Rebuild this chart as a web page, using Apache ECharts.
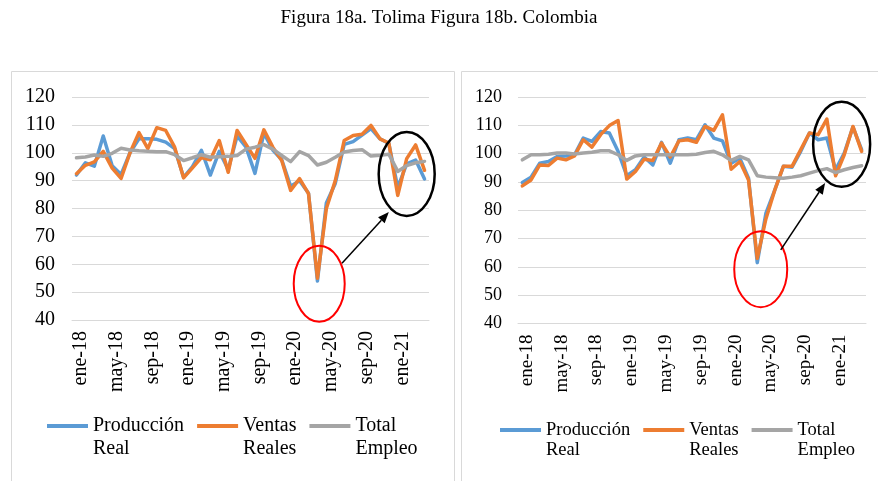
<!DOCTYPE html>
<html>
<head>
<meta charset="utf-8">
<script src="https://cdn.jsdelivr.net/npm/echarts@6/dist/echarts.min.js"></script>
<style>
    html, body { margin: 0; padding: 0; background: #fff; }
    #chart { width: 878px; height: 481px; }
</style>
</head>
<body>
<div id="chart"></div>
<script>
// categorías (meses ene-18 .. abr-21)
var meses = [
    'ene-18', 'feb-18', 'mar-18', 'abr-18', 'may-18', 'jun-18', 'jul-18', 'ago-18', 'sep-18', 'oct-18', 'nov-18', 'dic-18',
    'ene-19', 'feb-19', 'mar-19', 'abr-19', 'may-19', 'jun-19', 'jul-19', 'ago-19', 'sep-19', 'oct-19', 'nov-19', 'dic-19',
    'ene-20', 'feb-20', 'mar-20', 'abr-20', 'may-20', 'jun-20', 'jul-20', 'ago-20', 'sep-20', 'oct-20', 'nov-20', 'dic-20',
    'ene-21', 'feb-21', 'mar-21', 'abr-21'
];
var seriesNames = ['Producción Real', 'Ventas Reales', 'Total Empleo'];
var yTicks = [40, 120, 10]; // min, max, intervalo

// Figura 18a. Tolima
var tolimaProduccion = [92.0, 96.4, 95.2, 106.0, 95.3, 92.2, 100.0, 105.0, 105.0, 104.8, 103.8, 101.5,
    91.2, 95.0, 100.9, 92.0, 100.5, 94.0, 106.0, 102.0, 92.6, 107.0, 101.0, 97.5,
    88.0, 90.0, 85.5, 54.0, 82.0, 89.0, 103.0, 104.0, 106.3, 108.7, 105.0, 103.3,
    87.5, 96.0, 97.4, 90.6];
var tolimaVentas = [92.5, 95.5, 96.7, 100.5, 94.5, 90.8, 100.0, 107.2, 101.5, 109.0, 108.0, 102.0,
    91.0, 94.6, 98.3, 97.5, 104.4, 93.0, 108.0, 103.0, 98.0, 108.2, 102.0, 97.2,
    86.5, 90.7, 85.3, 55.0, 80.0, 90.0, 104.4, 106.2, 106.6, 109.8, 105.0, 103.5,
    84.7, 97.9, 102.8, 93.7];
var tolimaEmpleo = [98.2, 98.5, 99.2, 98.7, 99.8, 101.6, 101.0, 100.7, 100.5, 100.4, 100.4, 99.3,
    97.2, 98.2, 99.3, 98.4, 98.6, 98.7, 99.0, 101.3, 102.0, 102.9, 101.3, 99.0,
    96.8, 100.4, 99.0, 95.6, 96.6, 98.4, 100.3, 100.8, 101.1, 98.8, 99.1, 99.5,
    93.3, 95.4, 96.4, 96.9];

// Figura 18b. Colombia
var colombiaProduccion = [89.8, 91.7, 96.6, 97.2, 99.0, 99.2, 99.6, 105.5, 104.3, 107.8, 107.3, 100.8,
    92.2, 94.3, 98.8, 96.0, 104.0, 96.6, 104.9, 105.5, 104.9, 110.2, 105.5, 104.5,
    96.6, 98.4, 91.3, 61.5, 79.0, 87.0, 95.5, 95.2, 100.8, 107.3, 104.9, 105.5,
    94.3, 100.2, 109.4, 101.4];
var colombiaVentas = [88.6, 90.7, 96.0, 95.8, 98.4, 97.8, 99.2, 104.9, 102.3, 106.7, 109.9, 111.7,
    91.0, 93.7, 98.0, 97.6, 103.7, 98.8, 104.5, 104.9, 104.0, 109.6, 108.2, 113.7,
    94.5, 97.2, 90.7, 63.0, 77.0, 87.0, 95.5, 95.5, 101.4, 107.3, 106.7, 112.2,
    92.2, 99.6, 109.6, 100.8];
var colombiaEmpleo = [97.8, 99.6, 99.6, 99.8, 100.2, 100.2, 99.9, 100.2, 100.5, 101.0, 101.0, 99.6,
    97.6, 99.2, 99.6, 99.6, 99.6, 99.6, 99.6, 99.6, 99.8, 100.4, 100.8, 99.6,
    97.6, 99.0, 97.8, 92.2, 91.7, 91.5, 91.3, 91.7, 92.2, 93.1, 94.0, 94.7,
    93.3, 94.3, 95.1, 95.7];

(function () {
    var myChart = echarts.init(document.getElementById('chart'));
    var serif = 'Liberation Serif';
    var colors = ['#5b9bd5', '#ed7d31', '#a5a5a5'];
    var gridColor = '#d9d9d9';

    function xAxis(gridIndex, fontSize) {
        return {
            type: 'category',
            gridIndex: gridIndex,
            data: meses,
            axisTick: { show: false },
            axisLine: { lineStyle: { color: gridColor, width: 1 } },
            axisLabel: {
                interval: 3,
                rotate: 90,
                margin: 11,
                // desplaza un poco el texto girado hacia la derecha
                verticalAlign: 'top',
                lineHeight: 9,
                color: '#000',
                fontFamily: serif,
                fontSize: fontSize
            }
        };
    }

    function yAxis(gridIndex, fontSize, margin) {
        return {
            type: 'value',
            gridIndex: gridIndex,
            min: yTicks[0],
            max: yTicks[1],
            interval: yTicks[2],
            axisLine: { show: false },
            axisTick: { show: false },
            splitLine: { lineStyle: { color: gridColor, width: 1 } },
            axisLabel: { color: '#000', fontFamily: serif, fontSize: fontSize, margin: margin }
        };
    }

    function line(name, data, idx) {
        return {
            name: name,
            type: 'line',
            xAxisIndex: idx,
            yAxisIndex: idx,
            data: data,
            showSymbol: false,
            symbol: 'none',
            silent: true,
            lineStyle: { width: 3.5, cap: 'round', join: 'round' },
            animation: false
        };
    }

    // la leyenda tiene texto en dos líneas; el icono va a la altura de la primera
    function legend(left, top, h, fontSize) {
        var y0 = h / 4 - 2, y1 = h / 4 + 2;
        return {
            left: left,
            top: top,
            padding: 0,
            orient: 'horizontal',
            itemWidth: 41,
            itemHeight: h,
            itemGap: 13,
            icon: 'path://M0,0M0,' + y0 + 'H41V' + y1 + 'H0ZM41,' + h,
            itemStyle: { borderWidth: 0 },
            data: seriesNames,
            formatter: function (name) {
                return name.replace(' ', '\n');
            },
            textStyle: { color: '#000', fontFamily: serif, fontSize: fontSize, lineHeight: h / 2 }
        };
    }

    var option = {
        animation: false,
        color: colors,
        title: {
            text: 'Figura 18a. Tolima Figura 18b. Colombia',
            left: 'center',
            top: 4,
            textStyle: { color: '#000', fontFamily: serif, fontSize: 19, fontWeight: 'normal' }
        },
        grid: [
            { left: 72, right: 449, top: 97, bottom: 161 },
            { left: 518, right: 12, top: 97, bottom: 157.5 }
        ],
        xAxis: [xAxis(0, 20), xAxis(1, 19)],
        yAxis: [yAxis(0, 20, 17), yAxis(1, 18, 16)],
        legend: [legend(47, 414.5, 46, 20), legend(500, 420, 40, 18.5)],
        series: [
            line(seriesNames[0], tolimaProduccion, 0),
            line(seriesNames[1], tolimaVentas, 0),
            line(seriesNames[2], tolimaEmpleo, 0),
            line(seriesNames[0], colombiaProduccion, 1),
            line(seriesNames[1], colombiaVentas, 1),
            line(seriesNames[2], colombiaEmpleo, 1)
        ]
    };
    myChart.setOption(option);

    // posición en pixeles de un mes (admite fracción) y un valor
    function toPx(g, i, v) {
        var i0 = Math.floor(i), f = i - i0;
        var a = myChart.convertToPixel({ gridIndex: g }, [i0, v]);
        var b = myChart.convertToPixel({ gridIndex: g }, [i0 + 1, v]);
        return [a[0] + (b[0] - a[0]) * f, a[1]];
    }

    function ellipse(g, i, v, rx, ry, color, w) {
        var c = toPx(g, i, v);
        return {
            type: 'ellipse', z: 100, silent: true,
            shape: { cx: c[0], cy: c[1], rx: rx, ry: ry },
            style: { fill: 'none', stroke: color, lineWidth: w }
        };
    }

    function arrow(g, from, to) {
        var p1 = toPx(g, from[0], from[1]), p2 = toPx(g, to[0], to[1]);
        var dx = p2[0] - p1[0], dy = p2[1] - p1[1];
        var len = Math.sqrt(dx * dx + dy * dy);
        var ux = dx / len, uy = dy / len;
        var bx = p2[0] - ux * 11, by = p2[1] - uy * 11;
        return [{
            type: 'line', z: 100, silent: true,
            shape: { x1: p1[0], y1: p1[1], x2: bx, y2: by },
            style: { stroke: '#000', lineWidth: 1.5 }
        }, {
            type: 'polygon', z: 100, silent: true,
            shape: { points: [p2, [bx - uy * 4.5, by + ux * 4.5], [bx + uy * 4.5, by - ux * 4.5]] },
            style: { fill: '#000' }
        }];
    }

    var graphics = [
        // marcos de cada panel
        { type: 'rect', z: -1, silent: true, shape: { x: 11.5, y: 71.5, width: 443, height: 430 },
            style: { fill: 'none', stroke: gridColor, lineWidth: 1 } },
        { type: 'rect', z: -1, silent: true, shape: { x: 461.5, y: 71.5, width: 430, height: 430 },
            style: { fill: 'none', stroke: gridColor, lineWidth: 1 } },
        ellipse(0, 27.2, 53, 25.5, 38, '#ff0000', 2),
        ellipse(0, 37.0, 92.4, 28, 42, '#000', 2.5),
        ellipse(1, 27.4, 59.2, 26.5, 38, '#ff0000', 2),
        ellipse(1, 36.7, 103.3, 28.5, 42.5, '#000', 2.5)
    ];
    graphics = graphics.concat(arrow(0, [29.75, 60.4], [35.0, 78.7]));
    graphics = graphics.concat(arrow(1, [29.7, 66.0], [34.8, 89.6]));
    myChart.setOption({ graphic: graphics });
})();
</script>
</body>
</html>
